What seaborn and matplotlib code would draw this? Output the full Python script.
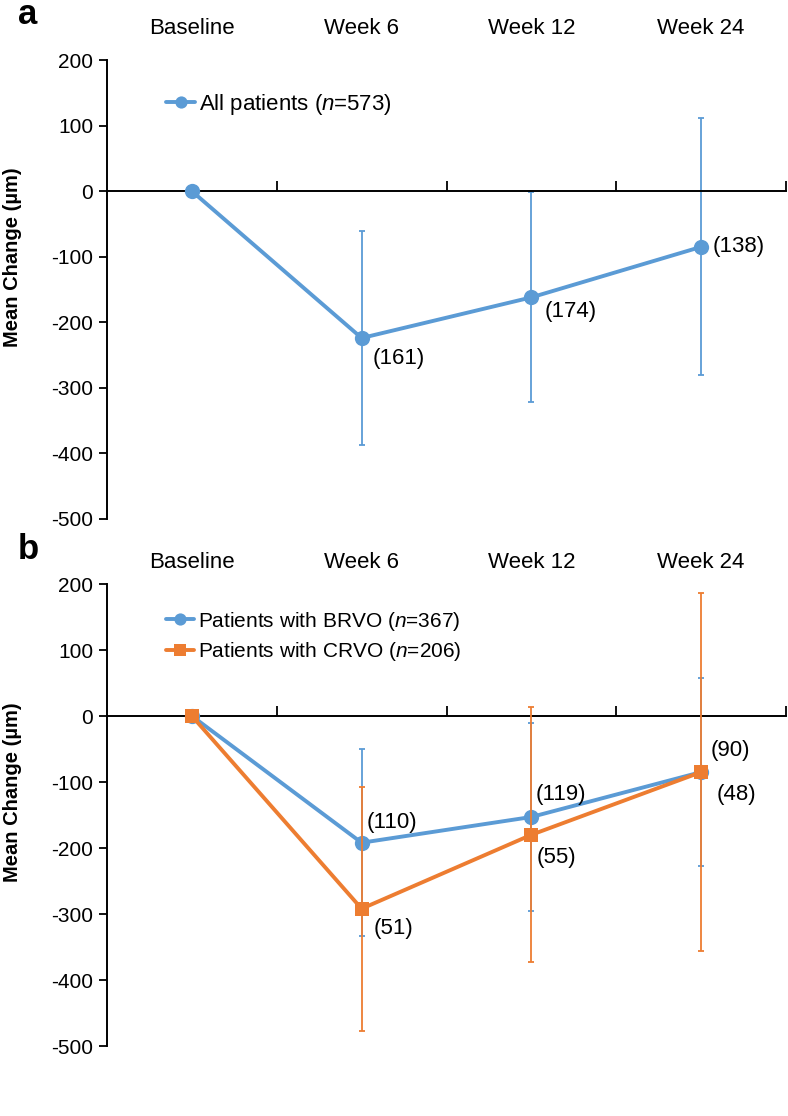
import matplotlib
matplotlib.use("Agg")
import matplotlib.pyplot as plt
import matplotlib.transforms as mtransforms
import numpy as np
import pandas as pd
import seaborn as sns

# data
visits = ["Baseline", "Week 6", "Week 12", "Week 24"]

all_mean = [0, -224, -162, -85]
all_sd = [0, 163, 160, 196]
all_n = ["", "(161)", "(174)", "(138)"]

brvo_mean = [0, -192, -153, -85]
brvo_sd = [0, 142, 143, 143]
brvo_n = ["", "(110)", "(119)", "(90)"]

crvo_mean = [0, -292, -180, -85]
crvo_sd = [0, 185, 193, 271]
crvo_n = ["", "(51)", "(55)", "(48)"]

BLUE = "#5B9BD5"
ORANGE = "#ED7D31"
W, H = 788, 1116

sns.set_theme(style="white")
plt.rcParams["font.family"] = ["Liberation Sans", "DejaVu Sans"]
plt.rcParams["mathtext.fontset"] = "custom"
plt.rcParams["mathtext.it"] = "Liberation Sans:italic"
plt.rcParams["mathtext.rm"] = "Liberation Sans"
plt.rcParams["axes.unicode_minus"] = False
plt.rcParams["text.color"] = "black"
plt.rcParams["axes.labelcolor"] = "black"
plt.rcParams["xtick.color"] = "black"
plt.rcParams["ytick.color"] = "black"
FS = 15      # tick labels
FS_TXT = 16  # category labels / counts


def px(v):
    # pixels -> points at dpi 100
    return v * 0.72


def draw_series(ax, mean, sd, color, marker, label, ms, z):
    df = pd.DataFrame({"visit": np.arange(len(visits)), "change": mean})
    ax.errorbar(df["visit"], df["change"], yerr=sd, fmt="none", ecolor=color,
                elinewidth=1.3, capsize=2.5, capthick=1.3, zorder=z)
    sns.lineplot(data=df, x="visit", y="change", ax=ax, color=color, marker=marker,
                 markersize=ms, markeredgewidth=0, linewidth=2.8, label=label,
                 zorder=z + 1)


def style_axes(ax, label_y):
    ax.set_xlim(-0.5, 3.5)
    ax.set_ylim(-500, 200)
    ax.set_yticks(np.arange(-500, 201, 100))
    ax.tick_params(axis="y", direction="out", length=6, width=1.3, labelsize=FS,
                   pad=4, left=True)
    ax.set_xticks([0.5, 1.5, 2.5, 3.5])
    ax.set_xticklabels([])
    ax.tick_params(axis="x", direction="in", length=7, width=1.3, bottom=True)
    for s in ["top", "right"]:
        ax.spines[s].set_visible(False)
    ax.spines["bottom"].set_position(("data", 0))
    for s in ["left", "bottom"]:
        ax.spines[s].set_color("black")
        ax.spines[s].set_linewidth(1.4)
    ax.set_xlabel("")
    ax.set_ylabel("Mean Change (µm)", fontsize=14.5, fontweight="bold")
    ax.yaxis.set_label_coords(-0.125, label_y)


def top_labels(ax, offset_px):
    tr = mtransforms.offset_copy(
        mtransforms.blended_transform_factory(ax.transData, ax.transAxes),
        fig=ax.figure, x=0, y=offset_px, units="dots")
    for i, v in enumerate(visits):
        ax.text(i, 1, v, transform=tr, ha="center", va="center", fontsize=FS_TXT)


def annotate(ax, x, y, text, dx, dy):
    ax.annotate(text, (x, y), xytext=(px(dx), px(dy)), textcoords="offset points",
                ha="left", va="center", fontsize=FS_TXT, zorder=10)


fig = plt.figure(figsize=(W / 100, H / 100), dpi=100)
left = 107 / W
width = (786 - 107) / W
ax_a = fig.add_axes([left, 1 - 519 / H, width, (519 - 60) / H])
ax_b = fig.add_axes([left, 1 - 1046 / H, width, (1046 - 584) / H])

# panel a
draw_series(ax_a, all_mean, all_sd, BLUE, "o", "All patients ($n$=573)", 11, 2)
style_axes(ax_a, 0.57)
top_labels(ax_a, 31)
annotate(ax_a, 1, all_mean[1], all_n[1], 11, -20)
annotate(ax_a, 2, all_mean[2], all_n[2], 13, -14)
annotate(ax_a, 3, all_mean[3], all_n[3], 12, 0)
ax_a.legend(loc="center left", bbox_to_anchor=(0.087, 0.903), frameon=False,
            fontsize=16, borderpad=0, borderaxespad=0, handlelength=1.3,
            handletextpad=0.2, markerscale=0.8)

# panel b
draw_series(ax_b, brvo_mean, brvo_sd, BLUE, "o", "Patients with BRVO ($n$=367)", 11, 2)
draw_series(ax_b, crvo_mean, crvo_sd, ORANGE, "s", "Patients with CRVO ($n$=206)", 10.5, 4)
style_axes(ax_b, 0.55)
top_labels(ax_b, 22)
annotate(ax_b, 1, brvo_mean[1], brvo_n[1], 5, 20)
annotate(ax_b, 1, crvo_mean[1], crvo_n[1], 12, -20)
annotate(ax_b, 2, brvo_mean[2], brvo_n[2], 4, 22)
annotate(ax_b, 2, crvo_mean[2], crvo_n[2], 5, -23)
annotate(ax_b, 3, brvo_mean[3], brvo_n[3], 10, 22)
annotate(ax_b, 3, crvo_mean[3], crvo_n[3], 15, -22)
ax_b.legend(loc="center left", bbox_to_anchor=(0.087, 0.887), frameon=False,
            fontsize=FS, borderpad=0, borderaxespad=0, handlelength=1.35,
            handletextpad=0.2, markerscale=0.8, labelspacing=0.35)

fig.text(18 / W, 1 - 24 / H, "a", fontsize=25, fontweight="bold", va="baseline", ha="left")
fig.text(18 / W, 1 - 559 / H, "b", fontsize=25, fontweight="bold", va="baseline", ha="left")

fig.savefig("out.png", dpi=100)
